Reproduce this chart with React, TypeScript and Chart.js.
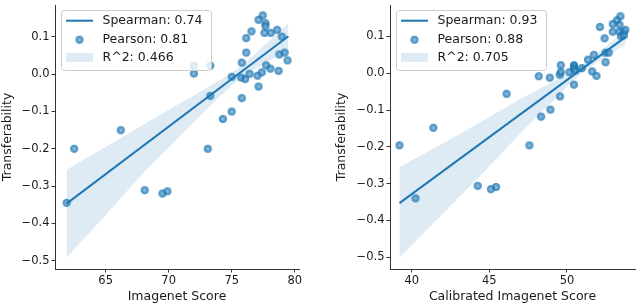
import React, { useEffect, useRef } from "react";
import { Chart, registerables } from "chart.js";

Chart.register(...registerables);

// ---------- data: left panel ----------
const imagenetScore = [
  61.9, 62.5, 66.2, 68.1, 69.5, 69.9, 72.0, 72.0, 73.3, 73.1, 73.3, 74.3, 75.0,
  75.0, 75.8, 75.8, 75.75, 76.07, 76.15, 76.15, 76.42, 76.57, 77.13, 77.46,
  77.68, 77.68, 77.6, 78.1, 78.6, 78.98, 77.05, 77.13, 77.39, 77.73, 78.07,
  78.78, 79.2, 79.43, 78.72,
];
const transferLeft = [
  -0.345, -0.2, -0.15, -0.311, -0.32, -0.314, 0.002, 0.023, 0.023, -0.2,
  -0.058, -0.12, -0.1, -0.007, -0.064, 0.031, -0.009, -0.013, 0.058, 0.097,
  0.001, 0.115, 0.146, 0.158, 0.137, 0.129, 0.111, 0.111, 0.119, 0.101,
  -0.004, -0.033, 0.005, 0.024, 0.015, 0.053, 0.058, 0.037, 0.009,
];
const fitLeftX = [61.9, 79.5];
const fitLeftY = [-0.347, 0.102];
const bandLeftX = [61.9, 64, 66, 68, 70, 72, 74, 75.5, 77, 78.5, 79.5];
const bandLeftUpper = [-0.256, -0.215, -0.175, -0.135, -0.095, -0.057, -0.017, 0.016, 0.059, 0.106, 0.136];
const bandLeftLower = [-0.491, -0.415, -0.34, -0.265, -0.197, -0.128, -0.062, -0.016, 0.017, 0.046, 0.062];
const xTicksLeft = [65, 70, 75, 80];
const legendLeft = ["Spearman: 0.74", "Pearson: 0.81", "R^2: 0.466"];

// ---------- data: right panel ----------
const calibratedScore = [
  39.21, 41.39, 46.11, 47.58, 48.18, 48.33, 48.89, 48.93, 49.55, 49.53, 49.6,
  49.6, 50.15, 50.45, 50.45, 50.45, 50.53, 50.45, 50.96, 51.35, 51.73, 51.62,
  51.9, 52.12, 52.42, 52.48, 52.69, 52.48, 52.95, 53.22, 53.44, 53.38, 52.95,
  53.38, 53.65, 53.76, 53.48, 53.67, 40.24, 44.25, 45.1, 45.43,
];
const transferRight = [
  -0.196, -0.148, -0.056, -0.196, -0.008, -0.118, -0.012, -0.099, -0.063,
  -0.004, 0.003, 0.022, 0.003, 0.022, 0.019, 0.012, 0.007, -0.031, 0.014,
  0.037, 0.05, 0.005, -0.007, 0.126, 0.095, 0.056, 0.056, 0.03, 0.134, 0.144,
  0.155, 0.132, 0.113, 0.113, 0.112, 0.118, 0.101, 0.103, -0.34, -0.306,
  -0.315, -0.309,
];
const fitRightX = [39.21, 53.78];
const fitRightY = [-0.353, 0.099];
const bandRightX = [39.21, 41, 43, 45, 47, 49, 50.5, 51.5, 52.5, 53.78];
const bandRightUpper = [-0.255, -0.214, -0.167, -0.119, -0.07, -0.025, 0.01, 0.038, 0.073, 0.117];
const bandRightLower = [-0.501, -0.424, -0.339, -0.253, -0.163, -0.08, -0.017, 0.018, 0.045, 0.078];
const xTicksRight = [40, 45, 50];
const legendRight = ["Spearman: 0.93", "Pearson: 0.88", "R^2: 0.705"];

const yTicks = [0.1, 0.0, -0.1, -0.2, -0.3, -0.4, -0.5];
const yTitle = "Transferability";
const xTitleLeft = "Imagenet Score";
const xTitleRight = "Calibrated Imagenet Score";

// ---------- styling ----------
const BLUE = "#1f77b4";
const BAND = "rgba(31,119,180,0.15)";
const FONT = "'DejaVu Sans', sans-serif";
const TEXT = "#1a1a1a";
const AXIS = "#333333";

function pts(xs: number[], ys: number[]) {
  return xs.map((x, i) => ({ x, y: ys[i] }));
}

function fmtY(v: number) {
  const a = Math.abs(v).toFixed(1);
  return v < -1e-9 ? "\u2212" + a : a;
}

function makeMarker(): HTMLCanvasElement {
  const size = 10;
  const c = document.createElement("canvas");
  c.width = size;
  c.height = size;
  const g = c.getContext("2d")!;
  const cx = size / 2;
  const r = 3.7;
  g.beginPath();
  g.arc(cx, cx, r, 0, Math.PI * 2);
  g.fillStyle = "rgba(31,119,180,0.72)";
  g.fill();
  g.lineWidth = 0.8;
  g.strokeStyle = "rgba(31,119,180,0.8)";
  g.stroke();
  g.strokeStyle = "rgba(255,255,255,0.3)";
  g.lineWidth = 0.6;
  for (let k = 0; k < 4; k++) {
    const a = (k * Math.PI) / 4;
    g.beginPath();
    g.moveTo(cx - Math.cos(a) * 1.8, cx - Math.sin(a) * 1.8);
    g.lineTo(cx + Math.cos(a) * 1.8, cx + Math.sin(a) * 1.8);
    g.stroke();
  }
  return c;
}

interface Panel {
  xs: number[];
  ys: number[];
  fitX: number[];
  fitY: number[];
  bandX: number[];
  bandU: number[];
  bandL: number[];
  xMin: number;
  xMax: number;
  yMin: number;
  yMax: number;
  xTicks: number[];
  xTitle: string;
  legend: string[];
  axisWidth: number;
  titlePad: number;
  padRight: number;
}

const leftPanel: Panel = {
  xs: imagenetScore,
  ys: transferLeft,
  fitX: fitLeftX,
  fitY: fitLeftY,
  bandX: bandLeftX,
  bandU: bandLeftUpper,
  bandL: bandLeftLower,
  xMin: 60.98,
  xMax: 80.34,
  yMin: -0.5225,
  yMax: 0.1857,
  xTicks: xTicksLeft,
  xTitle: xTitleLeft,
  legend: legendLeft,
  axisWidth: 55,
  titlePad: 0,
  padRight: 21,
};

const rightPanel: Panel = {
  xs: calibratedScore,
  ys: transferRight,
  fitX: fitRightX,
  fitY: fitRightY,
  bandX: bandRightX,
  bandU: bandRightUpper,
  bandL: bandRightLower,
  xMin: 38.6,
  xMax: 54.38,
  yMin: -0.532,
  yMax: 0.1855,
  xTicks: xTicksRight,
  xTitle: xTitleRight,
  legend: legendRight,
  axisWidth: 70,
  titlePad: 14.5,
  padRight: 3,
};

function legendPlugin(labels: string[], marker: HTMLCanvasElement) {
  return {
    id: "insideLegend",
    afterDraw(chart: any) {
      const ctx: CanvasRenderingContext2D = chart.ctx;
      const L = chart.chartArea.left;
      const T = chart.chartArea.top;
      ctx.save();
      const bx = L + 6.5;
      const by = T + 5.5;
      const bw = 150;
      const bh = 60;
      const r = 3;
      ctx.beginPath();
      ctx.moveTo(bx + r, by);
      ctx.lineTo(bx + bw - r, by);
      ctx.arcTo(bx + bw, by, bx + bw, by + r, r);
      ctx.lineTo(bx + bw, by + bh - r);
      ctx.arcTo(bx + bw, by + bh, bx + bw - r, by + bh, r);
      ctx.lineTo(bx + r, by + bh);
      ctx.arcTo(bx, by + bh, bx, by + bh - r, r);
      ctx.lineTo(bx, by + r);
      ctx.arcTo(bx, by, bx + r, by, r);
      ctx.closePath();
      ctx.fillStyle = "rgba(255,255,255,0.8)";
      ctx.fill();
      ctx.strokeStyle = "#cccccc";
      ctx.lineWidth = 1;
      ctx.stroke();

      const rows = [T + 15.7, T + 34.7, T + 52.5];
      ctx.strokeStyle = BLUE;
      ctx.lineWidth = 2;
      ctx.beginPath();
      ctx.moveTo(L + 11, rows[0]);
      ctx.lineTo(L + 38, rows[0]);
      ctx.stroke();

      ctx.drawImage(marker, L + 24.5 - marker.width / 2, rows[1] - marker.height / 2);

      ctx.fillStyle = BAND;
      ctx.fillRect(L + 11, rows[2] - 4.5, 27, 9);

      ctx.fillStyle = TEXT;
      ctx.font = `12.5px ${FONT}`;
      ctx.textBaseline = "middle";
      ctx.textAlign = "left";
      labels.forEach((t, i) => ctx.fillText(t, L + 47.5, rows[i] + 0.5));
      ctx.restore();
    },
  };
}

function buildChart(canvas: HTMLCanvasElement, p: Panel, marker: HTMLCanvasElement) {
  return new Chart(canvas, {
    type: "scatter",
    data: {
      datasets: [
        {
          type: "line",
          data: pts(p.fitX, p.fitY),
          borderColor: BLUE,
          borderWidth: 2,
          pointRadius: 0,
          fill: false,
          order: 0,
        } as any,
        {
          type: "line",
          data: pts(p.bandX, p.bandU),
          borderWidth: 0,
          borderColor: "rgba(0,0,0,0)",
          pointRadius: 0,
          fill: "+1",
          backgroundColor: BAND,
          cubicInterpolationMode: "monotone",
          order: 1,
        } as any,
        {
          type: "line",
          data: pts(p.bandX, p.bandL),
          borderWidth: 0,
          borderColor: "rgba(0,0,0,0)",
          pointRadius: 0,
          fill: false,
          cubicInterpolationMode: "monotone",
          order: 2,
        } as any,
        {
          type: "scatter",
          data: pts(p.xs, p.ys),
          pointStyle: marker,
          pointRadius: 4,
          order: 3,
        } as any,
      ],
    },
    options: {
      animation: false,
      responsive: false,
      devicePixelRatio: 1,
      events: [],
      layout: { padding: { left: 0, top: 2, right: p.padRight, bottom: 0 } },
      plugins: {
        legend: { display: false },
        tooltip: { enabled: false },
      },
      scales: {
        x: {
          type: "linear",
          position: "bottom",
          min: p.xMin,
          max: p.xMax,
          afterBuildTicks: (s: any) => {
            s.ticks = p.xTicks.map((v) => ({ value: v }));
          },
          afterFit: (s: any) => {
            s.height = 34;
            s.paddingLeft = 0;
            s.paddingRight = 0;
          },
          ticks: {
            callback: (v: any) => String(v),
            font: { family: FONT, size: 11.5 },
            color: TEXT,
            padding: 1.5,
            maxRotation: 0,
            autoSkip: false,
          },
          grid: {
            drawOnChartArea: false,
            drawTicks: true,
            tickLength: 3.5,
            color: AXIS,
            lineWidth: 1,
          },
          border: { display: true, color: AXIS, width: 1 },
          title: {
            display: true,
            text: p.xTitle,
            font: { family: FONT, size: 12.5, lineHeight: 1 },
            color: TEXT,
            padding: { top: 0, bottom: 0 },
          },
        },
        y: {
          type: "linear",
          min: p.yMin,
          max: p.yMax,
          afterBuildTicks: (s: any) => {
            s.ticks = yTicks.map((v) => ({ value: v }));
          },
          afterFit: (s: any) => {
            s.width = p.axisWidth;
            s.paddingTop = 0;
            s.paddingBottom = 0;
          },
          ticks: {
            callback: (v: any) => fmtY(Number(v)),
            font: { family: FONT, size: 11.5 },
            color: TEXT,
            padding: 2,
            autoSkip: false,
          },
          grid: {
            drawOnChartArea: false,
            drawTicks: true,
            tickLength: 3.5,
            color: AXIS,
            lineWidth: 1,
          },
          border: { display: true, color: AXIS, width: 1 },
          title: {
            display: true,
            text: yTitle,
            font: { family: FONT, size: 12.5 },
            color: TEXT,
            padding: { top: p.titlePad, bottom: 0 },
          },
        },
      },
    } as any,
    plugins: [legendPlugin(p.legend, marker) as any],
  });
}

export default function App() {
  const leftRef = useRef<HTMLCanvasElement>(null);
  const rightRef = useRef<HTMLCanvasElement>(null);

  useEffect(() => {
    const marker = makeMarker();
    const c1 = buildChart(leftRef.current!, leftPanel, marker);
    const c2 = buildChart(rightRef.current!, rightPanel, marker);
    return () => {
      c1.destroy();
      c2.destroy();
    };
  }, []);

  return (
    <div style={{ position: "absolute", left: 0, top: 0, width: 640, height: 303, background: "#ffffff" }}>
      <canvas
        ref={leftRef}
        width={320}
        height={303}
        style={{ position: "absolute", left: 0, top: 0, width: 320, height: 303 }}
      />
      <canvas
        ref={rightRef}
        width={320}
        height={303}
        style={{ position: "absolute", left: 320, top: 0, width: 320, height: 303 }}
      />
    </div>
  );
}
